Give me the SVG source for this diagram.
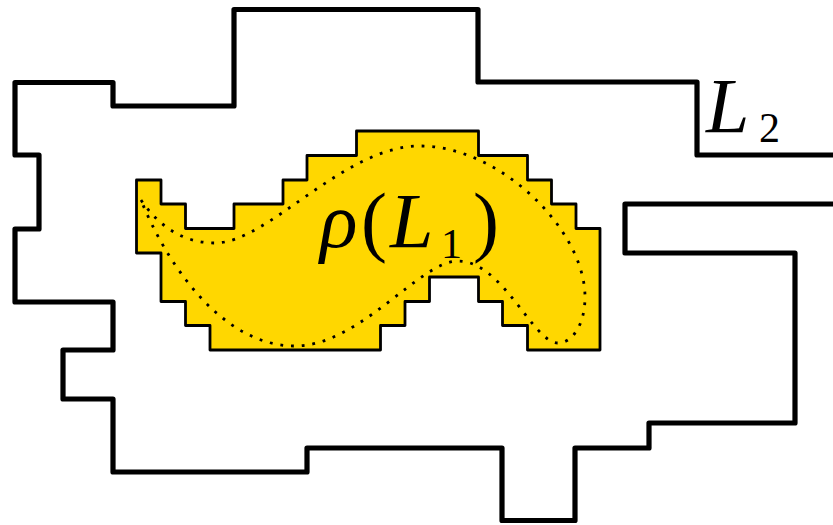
<svg xmlns="http://www.w3.org/2000/svg" width="833" height="525" viewBox="0 0 833 525">
<style>
.outer{fill:none;stroke:#000;stroke-width:5.2;stroke-linejoin:round}
.region{fill:#FFD700;stroke:#000;stroke-width:2.8;stroke-linejoin:round}
.curve{fill:none;stroke:#000;stroke-width:2.8;stroke-dasharray:2.8 7.9}
.m{font-family:"Liberation Serif","DejaVu Serif",serif;fill:#000}
.it{font-style:italic}
</style>
<rect width="833" height="525" fill="#fff"/>
<g id="L2">
<path class="outer" d="M833,155 H697 V82 H478 V9.5 H234 V106 H113 V82.5 H15 V155 H39 V229 H15 V302 H113 V350 H63 V399 H113 V472 H307 V448 H502 V520.5 H575 V448 H649 V423 H795 V253 H625 V204 H833"/>
<text class="m" font-size="78"><tspan class="it" x="706" y="131.7">L</tspan><tspan x="759" y="141.7" font-size="42">2</tspan></text>
</g>
<g id="rhoL1">
<path class="region" d="M136.5,180 H161 V204 H185.5 V228.5 H234 V204 H283 V180 H307 V155.5 H356.5 V131 H478.5 V155.5 H527.5 V180 H551.5 V204 H576 V228.5 H600 V350 H527.5 V325.5 H502.5 V301.5 H478.5 V277 H429.5 V301.5 H405 V325.5 H380.5 V350 H210 V325.5 H185.5 V301.5 H161 V253 H136.5 Z"/>
<path class="curve" d="M141,200 C160,228 185,243 215,243 C268,243 343,146 420,146 C500,146 585,230 585,297 C585,325 572,343 558,343 C533,343 503,261 458,261 C420,261 360,346 295,346 C220,346 165,260 141,200 Z"/>
<text class="m" font-size="78"><tspan class="it" x="320" y="246.7">ρ</tspan><tspan x="361" y="246.7">(</tspan><tspan class="it" x="390" y="246.7">L</tspan><tspan x="441" y="258" font-size="42">1</tspan><tspan x="473" y="246.7">)</tspan></text>
</g>
</svg>
